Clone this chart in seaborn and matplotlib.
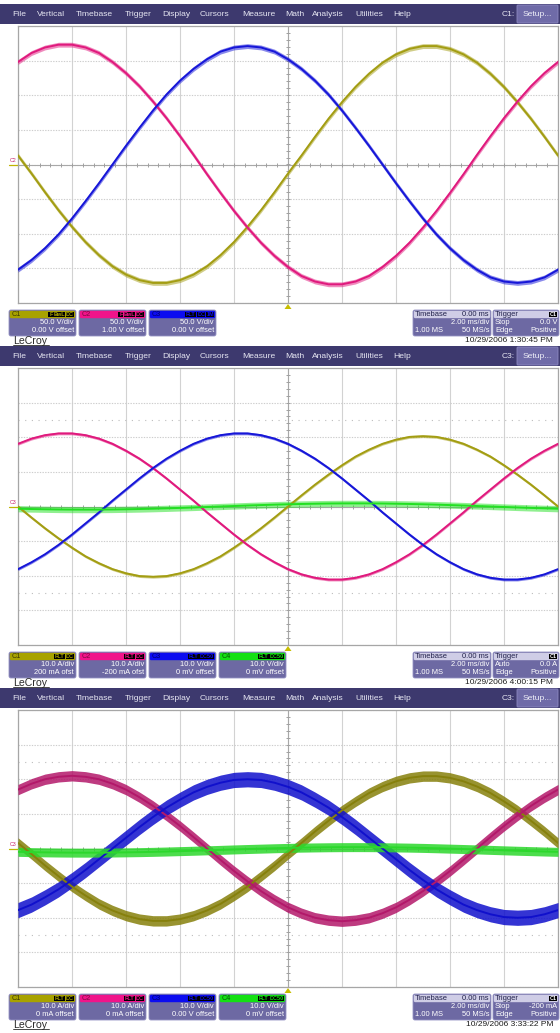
import matplotlib
matplotlib.use("Agg")
import matplotlib.pyplot as plt
from matplotlib.patches import Rectangle, FancyBboxPatch, Polygon
import numpy as np
import pandas as pd
import seaborn as sns

# screen time axis, ms (10 div x 2 ms/div, trigger at centre)
time_ms = [-10.0, -9.5, -9.0, -8.5, -8.0, -7.5, -7.0, -6.5, -6.0, -5.5, -5.0,
           -4.5, -4.0, -3.5, -3.0, -2.5, -2.0, -1.5, -1.0, -0.5, 0.0,
           0.5, 1.0, 1.5, 2.0, 2.5, 3.0, 3.5, 4.0, 4.5, 5.0,
           5.5, 6.0, 6.5, 7.0, 7.5, 8.0, 8.5, 9.0, 9.5, 10.0]

# capture 1 - phase voltages (V), 50 V/div
p1_c1 = [13, -13, -40, -66, -90, -112, -131, -147, -159, -167, -171, -171, -167, -159,
         -147, -131, -112, -90, -66, -40, -13, 13, 40, 66, 90, 112, 131, 147, 159, 167,
         171, 171, 167, 159, 147, 131, 112, 90, 66, 40, 13]
p1_c2 = [148, 161, 169, 173, 173, 169, 161, 148, 132, 113, 91, 67, 41, 14, -14, -41,
         -67, -91, -113, -132, -148, -161, -169, -173, -173, -169, -161, -148, -132, -113,
         -91, -67, -41, -14, 14, 41, 67, 91, 113, 132, 148]
p1_c3 = [-152, -138, -121, -101, -78, -53, -27, 0, 27, 53, 78, 101, 121, 138, 152, 163,
         169, 171, 169, 163, 152, 138, 121, 101, 78, 53, 27, 0, -27, -53, -78, -101, -121,
         -138, -152, -163, -169, -171, -169, -163, -152]

# capture 2 - phase currents (A), 10 /div, C4 in V
p2_c1 = [0.0, -3.2, -6.3, -9.2, -11.9, -14.4, -16.4, -18.1, -19.3, -20.1, -20.3, -20.1,
         -19.3, -18.1, -16.4, -14.4, -11.9, -9.2, -6.3, -3.2, 0.0, 3.2, 6.3, 9.2, 11.9,
         14.4, 16.4, 18.1, 19.3, 20.1, 20.3, 20.1, 19.3, 18.1, 16.4, 14.4, 11.9, 9.2, 6.3,
         3.2, 0.0]
p2_c2 = [18.1, 19.6, 20.6, 21.1, 21.1, 20.6, 19.6, 18.1, 16.1, 13.8, 11.1, 8.1, 4.9, 1.7,
         -1.7, -4.9, -8.1, -11.1, -13.8, -16.1, -18.1, -19.6, -20.6, -21.1, -21.1, -20.6,
         -19.6, -18.1, -16.1, -13.8, -11.1, -8.1, -4.9, -1.7, 1.7, 4.9, 8.1, 11.1, 13.8,
         16.1, 18.1]
p2_c3 = [-18.1, -16.1, -13.8, -11.1, -8.1, -4.9, -1.7, 1.7, 4.9, 8.1, 11.1, 13.8, 16.1,
         18.1, 19.6, 20.6, 21.1, 21.1, 20.6, 19.6, 18.1, 16.1, 13.8, 11.1, 8.1, 4.9, 1.7,
         -1.7, -4.9, -8.1, -11.1, -13.8, -16.1, -18.1, -19.6, -20.6, -21.1, -21.1, -20.6,
         -19.6, -18.1]
p2_c4 = [-0.64, -0.73, -0.80, -0.86, -0.89, -0.90, -0.89, -0.86, -0.80, -0.73, -0.64,
         -0.53, -0.41, -0.28, -0.14, 0.00, 0.14, 0.28, 0.41, 0.53, 0.64, 0.73, 0.80, 0.86,
         0.89, 0.90, 0.89, 0.86, 0.80, 0.73, 0.64, 0.53, 0.41, 0.28, 0.14, 0.00, -0.14,
         -0.28, -0.41, -0.53, -0.64]

# capture 3 - phase currents (A), 10 /div, C4 in V
p3_c1 = [1.6, -1.6, -4.9, -8.0, -11.0, -13.6, -16.0, -17.9, -19.4, -20.4, -20.9, -20.9,
         -20.4, -19.4, -17.9, -16.0, -13.6, -11.0, -8.0, -4.9, -1.6, 1.6, 4.9, 8.0, 11.0,
         13.6, 16.0, 17.9, 19.4, 20.4, 20.9, 20.9, 20.4, 19.4, 17.9, 16.0, 13.6, 11.0, 8.0,
         4.9, 1.6]
p3_c2 = [17.0, 18.7, 20.0, 20.7, 21.0, 20.7, 20.0, 18.7, 17.0, 14.8, 12.3, 9.5, 6.5, 3.3,
         0.0, -3.3, -6.5, -9.5, -12.3, -14.8, -17.0, -18.7, -20.0, -20.7, -21.0, -20.7,
         -20.0, -18.7, -17.0, -14.8, -12.3, -9.5, -6.5, -3.3, 0.0, 3.3, 6.5, 9.5, 12.3,
         14.8, 17.0]
p3_c3 = [-17.8, -16.2, -14.1, -11.8, -9.1, -6.2, -3.1, 0.0, 3.1, 6.2, 9.1, 11.8, 14.1,
         16.2, 17.8, 19.0, 19.8, 20.0, 19.8, 19.0, 17.8, 16.2, 14.1, 11.8, 9.1, 6.2, 3.1,
         0.0, -3.1, -6.2, -9.1, -11.8, -14.1, -16.2, -17.8, -19.0, -19.8, -20.0, -19.8,
         -19.0, -17.8]
p3_c4 = [-0.97, -1.05, -1.11, -1.16, -1.19, -1.20, -1.19, -1.16, -1.11, -1.05, -0.97,
         -0.87, -0.76, -0.65, -0.53, -0.40, -0.27, -0.15, -0.04, 0.07, 0.17, 0.25, 0.31,
         0.36, 0.39, 0.40, 0.39, 0.36, 0.31, 0.25, 0.17, 0.07, -0.04, -0.15, -0.27, -0.40,
         -0.53, -0.65, -0.76, -0.87, -0.97]

menu_items = ["File", "Vertical", "Timebase", "Trigger", "Display", "Cursors",
              "Measure", "Math", "Analysis", "Utilities", "Help"]
menu_x = [12, 37, 76, 125, 162, 200, 242, 285, 312, 355, 393]

p1_boxes = [("C1", ["F", "BwL", "DC"], "50.0 V/div", "0.00 V offset"),
            ("C2", ["F", "BwL", "DC"], "50.0 V/div", "1.00 V offset"),
            ("C3", ["FLT", "DC", "1M"], "50.0 V/div", "0.00 V offset")]
p2_boxes = [("C1", ["FLT", "DC"], "10.0 A/div", "200 mA ofst"),
            ("C2", ["FLT", "DC"], "10.0 A/div", "-200 mA ofst"),
            ("C3", ["FLT", "DC50"], "10.0 V/div", "0 mV offset"),
            ("C4", ["FLT", "DC50"], "10.0 V/div", "0 mV offset")]
p3_boxes = [("C1", ["FLT", "DC"], "10.0 A/div", "0 mA offset"),
            ("C2", ["FLT", "DC"], "10.0 A/div", "0 mA offset"),
            ("C3", ["FLT", "DC50"], "10.0 V/div", "0.00 V offset"),
            ("C4", ["FLT", "DC50"], "10.0 V/div", "0 mV offset")]

panels = [
    dict(traces={"C1": p1_c1, "C2": p1_c2, "C3": p1_c3}, per_div=50.0,
         noise={"C1": 0.07, "C2": 0.07, "C3": 0.07}, band_alpha=0.5,
         colors={"C1": "#a39d12", "C2": "#e0197d", "C3": "#1616d8"},
         boxes=p1_boxes, menu_ch="C1:", marker="C2", dots=False,
         trig=("Stop", "0.0 V"), date="10/29/2006 1:30:45 PM"),
    dict(traces={"C1": p2_c1, "C2": p2_c2, "C3": p2_c3, "C4": p2_c4}, per_div=10.0,
         noise={"C1": 0.04, "C2": 0.04, "C3": 0.04, "C4": 0.09}, band_alpha=0.5,
         colors={"C1": "#a39d12", "C2": "#e0197d", "C3": "#1616d8", "C4": "#22e022"},
         boxes=p2_boxes, menu_ch="C3:", marker="C3", dots=True,
         trig=("Auto", "0.0 A"), date="10/29/2006 4:00:15 PM"),
    dict(traces={"C1": p3_c1, "C2": p3_c2, "C3": p3_c3, "C4": p3_c4}, per_div=10.0,
         noise={"C1": 0.15, "C2": 0.15, "C3": 0.22, "C4": 0.13}, band_alpha=0.85,
         colors={"C1": "#86800c", "C2": "#b3186a", "C3": "#1010cc", "C4": "#2cd82c"},
         boxes=p3_boxes, menu_ch="C3:", marker="C3", dots=True,
         trig=("Stop", "-200 mA"), date="10/29/2006 3:33:22 PM"),
]

header_col = {"C1": "#a8a200", "C2": "#f0148a", "C3": "#0c0cf0", "C4": "#14e014"}
label_col = {"C1": "#3d3a00", "C2": "#7a0a40", "C3": "#00006e", "C4": "#065806"}

sns.set_style("white")
plt.rcParams['font.family'] = ['Liberation Sans', 'DejaVu Sans']

W, H = 560, 1033
fig = plt.figure(figsize=(W / 100, H / 100), dpi=100)
bg = fig.add_axes([0, 0, 1, 1])
bg.set_xlim(0, W)
bg.set_ylim(H, 0)
bg.axis('off')

BAR = "#3d396e"
BOX = "#6d69a3"
BOX_EDGE = "#9592c4"


def px_axes(x, y, w, h):
    return fig.add_axes([x / W, 1 - (y + h) / H, w / W, h / H])


def chan_box(x, y, name, tags, scale, offset):
    w, h = 67, 26
    bg.add_patch(FancyBboxPatch((x, y), w, h, boxstyle="round,pad=0,rounding_size=2",
                                fc=BOX, ec=BOX_EDGE, lw=0.6))
    bg.add_patch(FancyBboxPatch((x + 0.8, y + 0.8), w - 1.6, 7.4,
                                boxstyle="round,pad=0,rounding_size=1.5",
                                fc=header_col[name], ec='none'))
    bg.text(x + 2.5, y + 4.7, name, color=label_col[name], fontsize=5.2, va='center')
    xr = x + w - 1.8
    for tag in reversed(tags):
        tw = 2.9 * len(tag) + 2.4
        bg.add_patch(Rectangle((xr - tw, y + 1.6), tw, 5.8, fc='black', ec='none'))
        bg.text(xr - tw / 2, y + 4.6, tag, color=header_col[name], fontsize=4.0,
                ha='center', va='center', weight='bold')
        xr -= tw + 0.7
    bg.text(x + w - 2, y + 12.8, scale, color='white', fontsize=5.4, ha='right', va='center')
    bg.text(x + w - 2, y + 20.3, offset, color='white', fontsize=5.4, ha='right', va='center')


def info_box(x, y, w, head_l, head_r, rows, tag=None):
    h = 26
    bg.add_patch(FancyBboxPatch((x, y), w, h, boxstyle="round,pad=0,rounding_size=2",
                                fc=BOX, ec=BOX_EDGE, lw=0.6))
    bg.add_patch(FancyBboxPatch((x + 0.8, y + 0.8), w - 1.6, 7.4,
                                boxstyle="round,pad=0,rounding_size=1.5",
                                fc="#cfcde6", ec='none'))
    bg.text(x + 2, y + 4.7, head_l, color='#20204a', fontsize=5.4, va='center')
    if head_r:
        bg.text(x + w - 2, y + 4.7, head_r, color='#20204a', fontsize=5.4, ha='right',
                va='center')
    if tag:
        bg.add_patch(Rectangle((x + w - 10.5, y + 1.6), 8.5, 5.8, fc='black', ec='none'))
        bg.text(x + w - 6.2, y + 4.6, tag, color='white', fontsize=4.0, ha='center',
                va='center', weight='bold')
    for (left, right), yy in zip(rows, [12.8, 20.3]):
        if left:
            bg.text(x + 2, y + yy, left, color='white', fontsize=5.4, va='center')
        bg.text(x + w - 2, y + yy, right, color='white', fontsize=5.4, ha='right', va='center')


for i, p in enumerate(panels):
    oy = 342 * i

    # menu bar
    bg.add_patch(Rectangle((0, oy + 4), W, 20, fc=BAR, ec='none'))
    for item, mx in zip(menu_items, menu_x):
        bg.text(mx, oy + 14.3, item, color='#e6e6f2', fontsize=6.1, va='center')
    bg.text(502, oy + 14.3, p["menu_ch"], color='#e6e6f2', fontsize=6.1, va='center')
    bg.add_patch(FancyBboxPatch((517, oy + 5), 41, 18, boxstyle="round,pad=0,rounding_size=1",
                                fc="#6f6ba8", ec="#8c89c0", lw=0.6))
    bg.text(537.5, oy + 14.3, "Setup...", color='#eeeef8', fontsize=6.1, ha='center',
            va='center')

    # graticule
    ax = px_axes(18, oy + 26, 540, 277)
    ax.set_xlim(-10, 10)
    ax.set_ylim(-4, 4)
    ax.set_xticks(np.arange(-10, 11, 2))
    ax.set_yticks(np.arange(-4, 5, 1))
    ax.tick_params(length=0, labelbottom=False, labelleft=False)
    ax.xaxis.grid(True, color='#d2d2d2', lw=0.8, ls='-')
    ax.yaxis.grid(True, color='#cdcdcd', lw=0.8, ls=(0, (1.2, 1.2)))
    ax.set_axisbelow(True)
    for s in ax.spines.values():
        s.set_color('#a6a6a6')
        s.set_linewidth(0.9)
    ax.axhline(0, color='#a8a8a8', lw=0.8, zorder=1)
    ax.axvline(0, color='#a8a8a8', lw=0.8, zorder=1)
    ax.plot(np.arange(-10, 10.01, 0.4), np.zeros(51), ls='none', marker='|', ms=3.2,
            mew=0.7, color='#a0a0a0', zorder=1)
    ax.plot(np.zeros(41), np.arange(-4, 4.01, 0.2), ls='none', marker='_', ms=3.2,
            mew=0.7, color='#a0a0a0', zorder=1)
    if p["dots"]:
        for yv in (-2.5, 2.5):
            ax.axhline(yv, color='#bdbdbd', lw=0.8, ls=(0, (1, 5)), zorder=1)

    # traces
    for ch, vals in p["traces"].items():
        df = pd.DataFrame({"time": time_ms, "div": np.array(vals) / p["per_div"]})
        col = p["colors"][ch]
        nz = p["noise"][ch]
        ax.fill_between(df["time"], df["div"] - nz, df["div"] + nz, color=col,
                        alpha=p["band_alpha"], lw=0, zorder=3)
        sns.lineplot(data=df, x="time", y="div", ax=ax, color=col, linewidth=1.4,
                     sort=False, zorder=4)
    ax.set_xlabel("")
    ax.set_ylabel("")

    # channel ground marker and trigger marker
    bg.text(13, oy + 161, p["marker"], color='#c8246c', fontsize=3.8, ha='center',
            va='center')
    bg.plot([8.5, 17.5], [oy + 164.5, oy + 164.5], color='#c0b400', lw=0.9)
    bg.add_patch(Polygon([(284.5, oy + 309), (291.5, oy + 309), (288, oy + 304)],
                         closed=True, fc='#c8be00', ec='none'))

    # channel descriptor boxes
    for (name, tags, scale, offset), bx in zip(p["boxes"], [9, 79, 149, 219]):
        chan_box(bx, oy + 310, name, tags, scale, offset)
    info_box(413, oy + 310, 78, "Timebase", "0.00 ms",
             [(None, "2.00 ms/div"), ("1.00 MS", "50 MS/s")])
    info_box(493, oy + 310, 66, "Trigger", None,
             [(p["trig"][0], p["trig"][1]), ("Edge", "Positive")], tag="C1")

    # footer
    bg.text(13, oy + 341, "LeCroy", color='#2a2a2a', fontsize=7.6, va='center')
    bg.plot([13, 49], [oy + 345.3, oy + 345.3], color='#2a2a2a', lw=0.6)
    bg.text(553, oy + 341, p["date"], color='#1a1a1a', fontsize=6.0, ha='right',
            va='center')

fig.savefig("out.png", dpi=100, facecolor='white')
